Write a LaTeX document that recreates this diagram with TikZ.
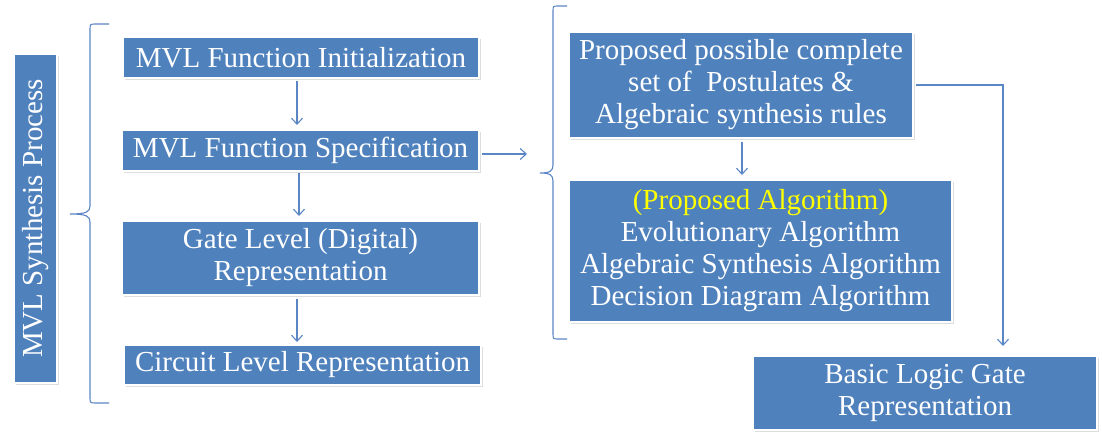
\documentclass[tikz,border=0pt]{standalone}
\usepackage{fontspec}
\setmainfont{Liberation Serif}
\usetikzlibrary{arrows.meta,shadows}
\definecolor{boxblue}{HTML}{4F81BD}
\definecolor{lineblue}{HTML}{5B86C4}
\definecolor{ptyellow}{HTML}{FFFF00}
\tikzset{
  bluebox/.style={rectangle, fill=boxblue, draw=white, line width=2pt, inner sep=0pt,
    text=white, align=center, font=\fontsize{29}{32}\selectfont,
    drop shadow={shadow xshift=1.5pt, shadow yshift=-2pt, opacity=0.22, fill=black!60}},
  conn/.style={draw=lineblue, line width=1.1pt, -{Straight Barb[length=6pt,width=11pt,line width=1.1pt]}},
  bracestyle/.style={draw=lineblue, line width=1.1pt}
}
\begin{document}
\begin{tikzpicture}[x=1pt,y=-1pt]
\useasboundingbox[fill=white] (0,0) rectangle (1102,435);

% left vertical label box
\node[bluebox, rotate=90, minimum width=329pt, minimum height=43pt] (synth) at (35.5,218.5) {MVL Synthesis Process};

% left brace
\draw[bracestyle] (109,24) -- (96,24) .. controls (90,24) .. (90,30) -- (90,206)
  .. controls (90,212) and (86,214) .. (70,214)
  .. controls (86,214) and (90,216) .. (90,222) -- (90,397)
  .. controls (90,403) .. (96,403) -- (109,403);

% left column boxes
\node[bluebox, minimum width=356pt, minimum height=41pt] (init) at (301,57.5) {MVL Function Initialization};
\node[bluebox, minimum width=357pt, minimum height=41pt] (spec) at (300.5,150.5) {MVL Function Specification};
\node[bluebox, minimum width=357pt, minimum height=74pt] (gate) at (300.5,258) {Gate Level (Digital)\\Representation};
\node[bluebox, minimum width=357pt, minimum height=40pt] (circ) at (302.5,365) {Circuit Level Representation};

\draw[conn, shorten >=4pt, shorten <=2pt] (init.south -| 297,0) -- (spec.north -| 297,0);
\draw[conn, shorten >=4pt, shorten <=1pt] (spec.south -| 299,0) -- (gate.north -| 299,0);
\draw[conn, shorten >=2pt, shorten <=3pt] (gate.south -| 297,0) -- (circ.north -| 297,0);

% arrow to right group
\coordinate (rb) at (527,154);
\draw[conn, shorten <=2pt] (spec.east |- rb) -- (rb);

% right brace
\draw[bracestyle] (567,6) -- (558,6) .. controls (553,6) .. (553,12) -- (553,165)
  .. controls (553,171) and (550,173) .. (540,173)
  .. controls (550,173) and (553,175) .. (553,181) -- (553,333)
  .. controls (553,339) .. (558,339) -- (567,339);

% right boxes
\node[bluebox, minimum width=344pt, minimum height=106pt] (post) at (741,85)
  {\raisebox{-3pt}{\begin{tabular}{@{}c@{}}Proposed possible complete\\set of\ \ Postulates \&\\Algebraic synthesis rules\end{tabular}}};
\node[bluebox, minimum width=383pt, minimum height=142pt] (algo) at (760.5,251)
  {\textcolor{ptyellow}{(Proposed Algorithm)}\\Evolutionary Algorithm\\Algebraic Synthesis Algorithm\\Decision Diagram Algorithm};
\node[bluebox, minimum width=344pt, minimum height=74pt] (basic) at (925,393)
  {Basic Logic Gate\\Representation};

\draw[conn, shorten >=4pt, shorten <=3pt] (post.south -| 742,0) -- (algo.north -| 742,0);
\draw[conn, shorten <=2pt, shorten >=9pt] (post.east) -| (basic.north -| 1003,0);
\end{tikzpicture}
\end{document}
